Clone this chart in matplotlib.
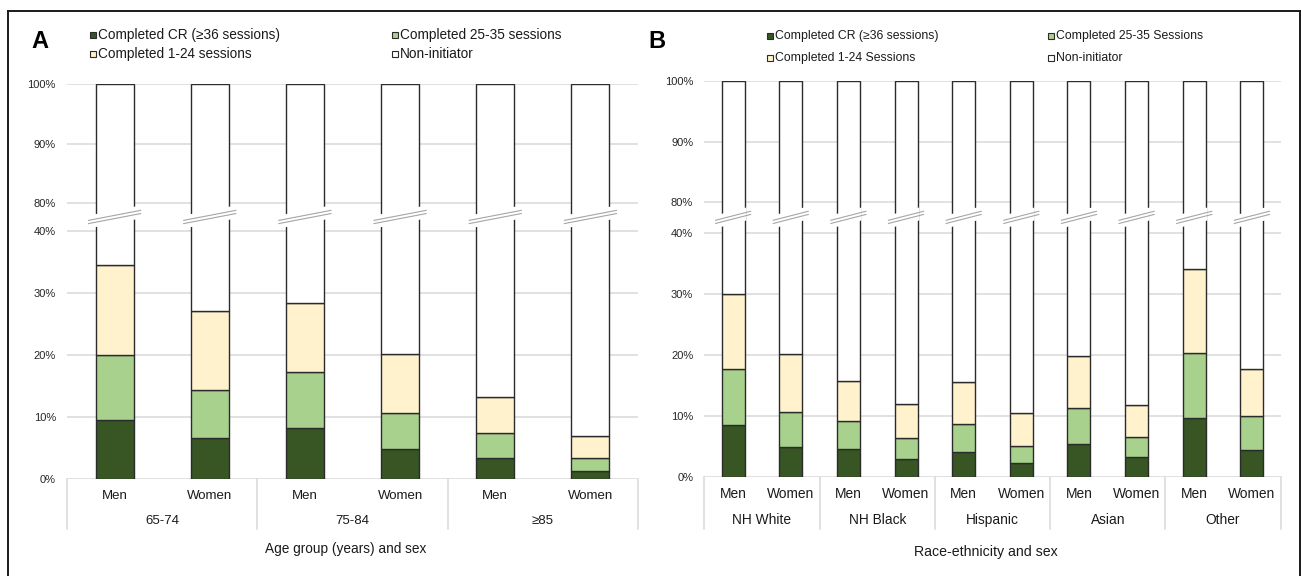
import numpy as np
import matplotlib
matplotlib.use("Agg")
import matplotlib.pyplot as plt
from matplotlib.patches import Rectangle, Polygon
from matplotlib.lines import Line2D
from matplotlib.transforms import blended_transform_factory

plt.rcParams['font.family'] = ['Liberation Sans', 'DejaVu Sans']

# ---------------- data ----------------
series_names_a = ["Completed CR (≥36 sessions)", "Completed 25-35 sessions",
                  "Completed 1-24 sessions", "Non-initiator"]
series_names_b = ["Completed CR (≥36 sessions)", "Completed 25-35 Sessions",
                  "Completed 1-24 Sessions", "Non-initiator"]

groups_a = ["65-74", "75-84", "≥85"]
sexes = ["Men", "Women"]
cr_a = [9.5, 6.6, 8.3, 4.9, 3.5, 1.4]
s2535_a = [10.5, 7.7, 8.9, 5.8, 4.0, 2.0]
s124_a = [14.4, 12.8, 11.2, 9.5, 5.7, 3.6]

groups_b = ["NH White", "NH Black", "Hispanic", "Asian", "Other"]
cr_b = [8.5, 4.8, 4.6, 2.9, 4.0, 2.2, 5.3, 3.2, 9.7, 4.4]
s2535_b = [9.1, 5.8, 4.5, 3.4, 4.6, 2.9, 5.9, 3.3, 10.6, 5.5]
s124_b = [12.3, 9.5, 6.6, 5.6, 6.9, 5.3, 8.6, 5.2, 13.7, 7.8]

ytick_vals = [0, 10, 20, 30, 40, 80, 90, 100]
ytick_labels = ["0%", "10%", "20%", "30%", "40%", "80%", "90%", "100%"]

# ---------------- style ----------------
colors = ["#375623", "#a9d18e", "#fff2cc", "#ffffff"]
edge = "#2b2b2b"
grid_c = "#d9d9d9"
W, H = 1302, 576
fig = plt.figure(figsize=(W / 100, H / 100), dpi=100)


def fx(x):
    return x / W


def fy(y):
    return 1 - y / H


def make_scale(g, k):
    def fwd(v):
        v = np.asarray(v, float)
        return np.where(v <= 40, v,
                        np.where(v <= 80, 40 + (v - 40) * g / 40, 40 + g + (v - 80) * k))

    def inv(u):
        u = np.asarray(u, float)
        return np.where(u <= 40, u,
                        np.where(u <= 40 + g, 40 + (u - 40) * 40 / g, 80 + (u - 40 - g) / k))
    return fwd, inv


def panel(left_px, right_px, bottom_px, top_px, g, k, groups, segs, fs_cat,
          lab_y, grp_y, sep_y, title, title_x, title_y, fs_title, ext_px, d_px):
    ax = fig.add_axes([fx(left_px), fy(bottom_px), (right_px - left_px) / W,
                       (bottom_px - top_px) / H])
    ax.set_facecolor("none")
    fwd, inv = make_scale(g, k)
    ax.set_yscale("function", functions=(fwd, inv))
    n = len(groups) * 2
    x = np.arange(n)
    width = 0.4
    bottom = np.zeros(n)
    vals = [np.array(s, float) for s in segs]
    vals.append(100 - sum(vals))
    for v, c in zip(vals, colors):
        ax.bar(x, v, bottom=bottom, width=width, color=c, edgecolor=edge,
               linewidth=1.0, zorder=3)
        bottom = bottom + v
    ax.set_xlim(-0.5, n - 0.5)
    ax.set_ylim(0, 100)
    ax.set_yticks(ytick_vals)
    ax.set_yticklabels(ytick_labels)
    ax.set_xticks([])
    ax.yaxis.grid(True, color=grid_c, linewidth=1.1, zorder=0)
    ax.tick_params(axis="y", length=0, labelsize=8, pad=8, labelcolor="#262626")
    for s in ax.spines.values():
        s.set_visible(False)

    ah = bottom_px - top_px
    tr = blended_transform_factory(ax.transData, ax.transAxes)

    def fr(px_below):
        return -px_below / ah

    # category labels
    for i in range(n):
        ax.text(x[i], fr(lab_y - bottom_px), sexes[i % 2], transform=tr,
                ha="center", va="center", fontsize=fs_cat, color="#1a1a1a")
    for j, gname in enumerate(groups):
        ax.text(2 * j + 0.5, fr(grp_y - bottom_px), gname, transform=tr,
                ha="center", va="center", fontsize=fs_cat, color="#1a1a1a")
    for j in range(len(groups) + 1):
        xs = 2 * j - 0.5
        ax.add_line(Line2D([xs, xs], [0, fr(sep_y - bottom_px)], transform=tr,
                           color=grid_c, linewidth=1.1, clip_on=False))
    fig.text(fx(title_x), fy(title_y), title, ha="center", va="center",
             fontsize=fs_title, color="#1a1a1a")

    # axis break marks
    yc = float(fwd(60) / fwd(100))
    slot_px = (right_px - left_px) / n
    ext = ext_px / slot_px
    d = d_px / ah
    half_band = 6.5 / ah
    off = 1.6 / ah
    for i in range(n):
        xl = x[i] - width / 2 - ext
        xr = x[i] + width / 2 + ext

        def yline(xx):
            return yc + d * (2 * (xx - x[i]) / (xr - xl))
        bl = x[i] - width / 2 - 0.03
        br = x[i] + width / 2 + 0.03
        poly = Polygon([(bl, yline(bl) - half_band), (br, yline(br) - half_band),
                        (br, yline(br) + half_band), (bl, yline(bl) + half_band)],
                       closed=True, transform=tr, facecolor="white",
                       edgecolor="none", zorder=5, clip_on=False)
        ax.add_patch(poly)
        for o in (-off, off):
            ax.add_line(Line2D([xl, xr], [yline(xl) + o, yline(xr) + o], transform=tr,
                               color="#a6a6a6", linewidth=0.8, zorder=6, clip_on=False))
    return ax


# Panel A
panel(67, 638, 479.3, 84.3, 4.41, 0.957, groups_a, [cr_a, s2535_a, s124_a], 9.5,
      496, 520.7, 529.3, "Age group (years) and sex", 346, 549, 9.8, 7, 5)
# Panel B
panel(704.3, 1280.7, 476.7, 81, 5.03, 0.992, groups_b, [cr_b, s2535_b, s124_b], 9.9,
      494.3, 520, 529, "Race-ethnicity and sex", 986, 552, 10.2, 6, 4.5)


# legends
def legend_entry(sx, sy, text, color, fs):
    fig.add_artist(Rectangle((fx(sx), fy(sy + 3)), 6 / W, 6 / H, transform=fig.transFigure,
                             facecolor=color, edgecolor=edge, linewidth=0.8))
    fig.text(fx(sx + 8), fy(sy), text, ha="left", va="center", fontsize=fs,
             color="#1a1a1a")


legend_entry(90, 35, series_names_a[0], colors[0], 9.8)
legend_entry(392, 35, series_names_a[1], colors[1], 9.8)
legend_entry(90, 54, series_names_a[2], colors[2], 9.8)
legend_entry(392, 54, series_names_a[3], colors[3], 9.8)

legend_entry(767, 36, series_names_b[0], colors[0], 8.8)
legend_entry(1048, 36, series_names_b[1], colors[1], 8.8)
legend_entry(767, 58, series_names_b[2], colors[2], 8.8)
legend_entry(1048, 58, series_names_b[3], colors[3], 8.8)

# panel letters
fig.text(fx(40), fy(42), "A", ha="center", va="center", fontsize=17, fontweight="bold")
fig.text(fx(657), fy(42), "B", ha="center", va="center", fontsize=17, fontweight="bold")

# outer frame
for xs, ys in [([7.5, 7.5], [590, 11]), ([7.5, 1299.5], [11, 11]), ([1299.5, 1299.5], [11, 590])]:
    fig.add_artist(Line2D([fx(v) for v in xs], [fy(v) for v in ys],
                          transform=fig.transFigure, color="#1a1a1a", linewidth=1.4))

fig.savefig("out.png", dpi=100)
